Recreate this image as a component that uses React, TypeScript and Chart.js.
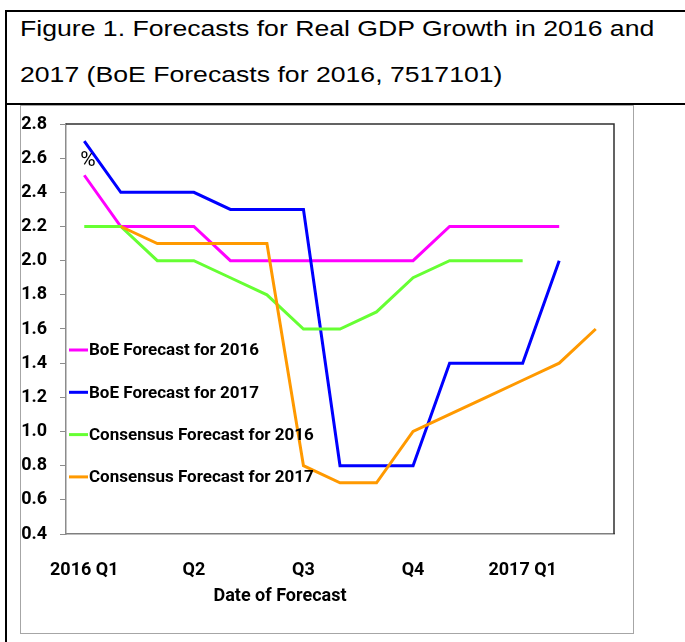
import React, { useEffect, useRef } from "react";
import { Chart, registerables } from "chart.js";

Chart.register(...registerables);

// ---- data ----
const months = [
  "Jan 2016", "Feb 2016", "Mar 2016", "Apr 2016", "May 2016", "Jun 2016",
  "Jul 2016", "Aug 2016", "Sep 2016", "Oct 2016", "Nov 2016", "Dec 2016",
  "Jan 2017", "Feb 2017", "Mar 2017",
];
const quarterTickLabels = [
  "2016 Q1", "", "", "Q2", "", "", "Q3", "", "", "Q4", "", "", "2017 Q1", "", "",
];
const boe2016 = [2.5, 2.2, 2.2, 2.2, 2.0, 2.0, 2.0, 2.0, 2.0, 2.0, 2.2, 2.2, 2.2, 2.2, null];
const boe2017 = [2.7, 2.4, 2.4, 2.4, 2.3, 2.3, 2.3, 0.8, 0.8, 0.8, 1.4, 1.4, 1.4, 2.0, null];
const consensus2016 = [2.2, 2.2, 2.0, 2.0, 1.9, 1.8, 1.6, 1.6, 1.7, 1.9, 2.0, 2.0, 2.0, null, null];
const consensus2017 = [null, 2.2, 2.1, 2.1, 2.1, 2.1, 0.8, 0.7, 0.7, 1.0, 1.1, 1.2, 1.3, 1.4, 1.6];
const seriesNames = [
  "BoE Forecast for 2016",
  "BoE Forecast for 2017",
  "Consensus Forecast for 2016",
  "Consensus Forecast for 2017",
];
const seriesColors = ["#FF00FF", "#0000FF", "#66FF33", "#FF9900"];
const yMin = 0.4;
const yMax = 2.8;
const yStep = 0.2;
const titleLine1 = "Figure 1. Forecasts for Real GDP Growth in 2016 and";
const titleLine2 = "2017 (BoE Forecasts for 2016, 7517101)";
const xAxisTitle = "Date of Forecast";
const unitLabel = "%";

const FONT = "Roboto, 'Liberation Sans', sans-serif";

const overlayPlugin = {
  id: "overlay",
  afterDraw(chart: any) {
    const { ctx, chartArea: a } = chart;
    ctx.save();
    // plot area top & right border
    ctx.strokeStyle = "#303030";
    ctx.lineWidth = 1.5;
    ctx.beginPath();
    ctx.moveTo(a.left, a.top);
    ctx.lineTo(a.right, a.top);
    ctx.lineTo(a.right, a.bottom);
    ctx.stroke();

    // legend inside plot
    const ds = chart.data.datasets;
    ctx.font = `bold 17px ${FONT}`;
    ctx.textBaseline = "middle";
    ctx.textAlign = "left";
    for (let i = 0; i < ds.length; i++) {
      const y = a.top + 226 + i * 42.3;
      ctx.strokeStyle = ds[i].borderColor;
      ctx.lineWidth = 3;
      ctx.beginPath();
      ctx.moveTo(a.left + 3, y);
      ctx.lineTo(a.left + 22, y);
      ctx.stroke();
      ctx.fillStyle = "#000";
      ctx.fillText(ds[i].label, a.left + 23, y + 1);
    }

    // unit label
    ctx.font = `21px ${FONT}`;
    ctx.textAlign = "center";
    ctx.fillText(unitLabel, a.left + 22, a.top + 37);

    // x axis title
    ctx.font = `bold 18px ${FONT}`;
    ctx.fillText(xAxisTitle, a.left + 214, a.bottom + 62);
    ctx.restore();
  },
};

function ForecastChart() {
  const ref = useRef<HTMLCanvasElement | null>(null);
  useEffect(() => {
    if (!ref.current) return;
    const series = [boe2016, boe2017, consensus2016, consensus2017];
    const chart = new Chart(ref.current, {
      type: "line",
      data: {
        labels: months,
        datasets: series.map((d, i) => ({
          label: seriesNames[i],
          data: d,
          borderColor: seriesColors[i],
          backgroundColor: seriesColors[i],
          borderWidth: 3,
          pointRadius: 0,
          tension: 0,
          fill: false,
          order: series.length - 1 - i,
        })),
      },
      options: {
        animation: false,
        responsive: false,
        layout: { padding: { top: 18, right: 19, bottom: 0, left: 0 } },
        plugins: {
          legend: { display: false },
          tooltip: { enabled: false },
          title: { display: false },
        },
        scales: {
          x: {
            type: "category",
            offset: true,
            grid: { drawOnChartArea: false, drawTicks: false },
            border: { display: true, color: "#7f7f7f", width: 1.5 },
            ticks: {
              autoSkip: false,
              maxRotation: 0,
              minRotation: 0,
              padding: 26,
              color: "#000",
              font: { family: FONT, size: 18, weight: "bold" },
              callback: (_v: any, i: number) => quarterTickLabels[i],
            },
            afterFit: (s: any) => {
              s.height = 99;
              s.paddingLeft = 0;
              s.paddingRight = 0;
            },
          },
          y: {
            min: yMin,
            max: yMax,
            grid: { drawOnChartArea: false, drawTicks: true, tickLength: 6, color: "#8c8c8c" },
            border: { display: true, color: "#8c8c8c", width: 1.5 },
            ticks: {
              stepSize: yStep,
              padding: 13,
              color: "#000",
              font: { family: FONT, size: 18, weight: "bold" },
              callback: (v: any) => Number(v).toFixed(1),
            },
            afterFit: (s: any) => {
              s.width = 45;
              s.paddingTop = 10;
              s.paddingBottom = 10;
            },
          },
        },
      },
      plugins: [overlayPlugin],
    });
    return () => chart.destroy();
  }, []);
  return <canvas ref={ref} width={612} height={527} style={{ display: "block" }} />;
}

export default function App() {
  const titleStyle: React.CSSProperties = {
    position: "absolute",
    left: 20,
    fontSize: 22,
    lineHeight: "25px",
    whiteSpace: "nowrap",
    transform: "scaleX(1.21)",
    transformOrigin: "0 0",
    color: "#000",
  };
  return (
    <div
      style={{
        position: "absolute",
        left: 0,
        top: 0,
        width: 685,
        height: 642,
        background: "#fff",
        fontFamily: "'Liberation Sans', Arial, sans-serif",
        overflow: "hidden",
      }}
    >
      <div style={{ position: "absolute", left: 5, top: 10, width: 680, height: 2, background: "#000" }} />
      <div style={{ position: "absolute", left: 5, top: 10, width: 2, height: 632, background: "#000" }} />
      <div style={{ position: "absolute", left: 5, top: 103, width: 680, height: 2, background: "#000" }} />
      <div style={{ ...titleStyle, top: 16 }}>{titleLine1}</div>
      <div style={{ ...titleStyle, top: 62 }}>{titleLine2}</div>
      <div
        style={{
          position: "absolute",
          left: 20,
          top: 105,
          width: 612,
          height: 527,
          border: "1px solid #a6a6a6",
          background: "#fff",
        }}
      >
        <ForecastChart />
      </div>
    </div>
  );
}
